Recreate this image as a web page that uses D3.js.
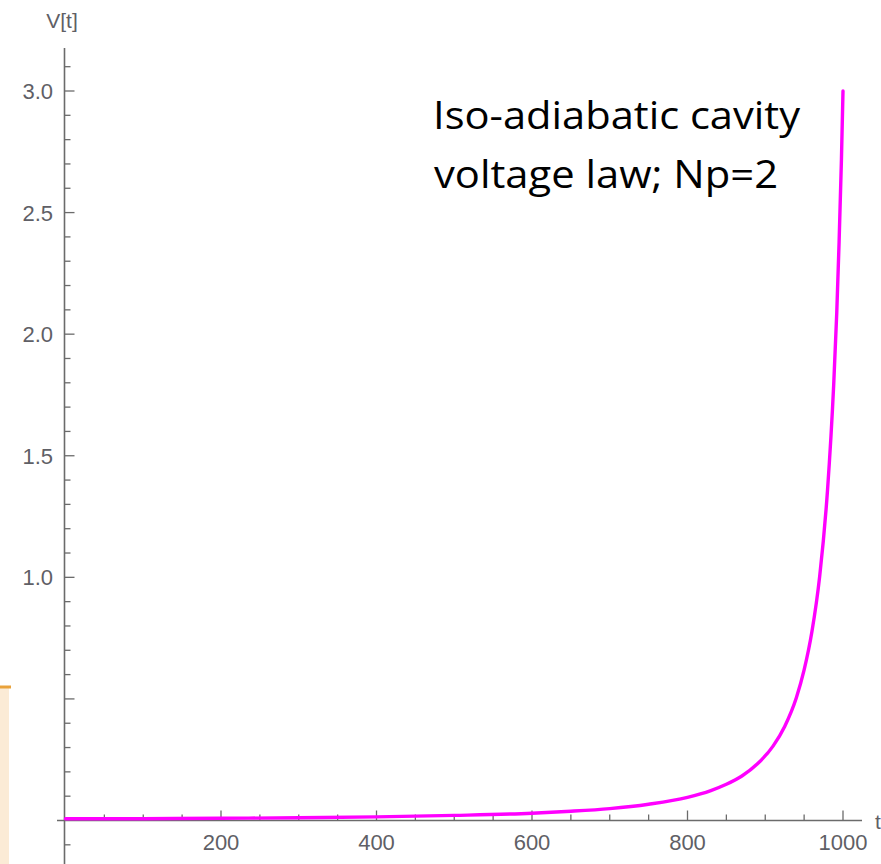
<!DOCTYPE html>
<html>
<head>
<meta charset="utf-8">
<script src="https://cdn.jsdelivr.net/npm/d3@7"></script>
<style>
  html, body { margin: 0; padding: 0; background: #ffffff; overflow: hidden; }
  svg { display: block; }
</style>
</head>
<body>
<svg id="chart" width="881" height="864"></svg>
<script>
// ---- data ----
const tValues = [0, 100, 200, 300, 400, 500, 600, 650, 700, 750, 800, 830, 850, 870, 890, 910, 925, 940, 950, 960, 970, 980, 988, 992, 995, 998, 1000];
const vValues = [0.007, 0.0075, 0.009, 0.0115, 0.015, 0.021, 0.030, 0.038, 0.049, 0.067, 0.095, 0.123, 0.149, 0.183, 0.233, 0.306, 0.387, 0.505, 0.619, 0.776, 1.004, 1.355, 1.79, 2.09, 2.38, 2.72, 3.0];
const xMajorTicks = [200, 400, 600, 800, 1000];
const xMajorLabels = ["200", "400", "600", "800", "1000"];
const xMinorTicks = [50, 100, 150, 250, 300, 350, 450, 500, 550, 650, 700, 750, 850, 900, 950];
const yMajorTicks = [0.5, 1.0, 1.5, 2.0, 2.5, 3.0];
const yMajorLabels = ["", "1.0", "1.5", "2.0", "2.5", "3.0"];
const yMinorTicks = [-0.1, 0.1, 0.2, 0.3, 0.4, 0.6, 0.7, 0.8, 0.9, 1.1, 1.2, 1.3, 1.4, 1.6, 1.7, 1.8, 1.9, 2.1, 2.2, 2.3, 2.4, 2.6, 2.7, 2.8, 2.9, 3.1];
const yAxisTitle = "V[t]";
const xAxisTitle = "t";
const noteLines = ["Iso-adiabatic cavity", "voltage law; Np=2"];

const data = tValues.map((t, i) => ({ t: t, v: vValues[i] }));

// ---- layout ----
const svg = d3.select("#chart");
const x = d3.scaleLinear().domain([0, 1000]).range([65.5, 843]);
const y = d3.scaleLinear().domain([0, 3]).range([820.5, 91]);
const axisX = 64.5;      // pixel of the vertical axis
const axisY = y(0);      // pixel of the horizontal axis
const axisColor = "#6b6b6b";
const labelColor = "#5f5f66";

// decorative fragment at left edge (part of another window in the reference)
svg.append("rect").attr("x", 0).attr("y", 688).attr("width", 9).attr("height", 176).attr("fill", "#fbebd6");
svg.append("line").attr("x1", 0).attr("x2", 11).attr("y1", 687).attr("y2", 687)
   .attr("stroke", "#e9a23b").attr("stroke-width", 3);

// ---- axes ----
const g = svg.append("g");

g.append("line").attr("x1", 57).attr("x2", 862).attr("y1", axisY).attr("y2", axisY)
  .attr("stroke", axisColor).attr("stroke-width", 1.6);
g.append("line").attr("x1", axisX).attr("x2", axisX).attr("y1", 48).attr("y2", 864)
  .attr("stroke", axisColor).attr("stroke-width", 1.6);

g.selectAll(".xmaj").data(xMajorTicks).enter().append("line")
  .attr("x1", d => x(d)).attr("x2", d => x(d)).attr("y1", axisY).attr("y2", axisY - 10)
  .attr("stroke", axisColor).attr("stroke-width", 1.3);
g.selectAll(".xmin").data(xMinorTicks).enter().append("line")
  .attr("x1", d => x(d)).attr("x2", d => x(d)).attr("y1", axisY).attr("y2", axisY - 6)
  .attr("stroke", axisColor).attr("stroke-width", 1.3);
g.selectAll(".xlab").data(xMajorTicks).enter().append("text")
  .attr("x", d => x(d)).attr("y", 850)
  .attr("text-anchor", "middle")
  .attr("font-family", "'Liberation Sans', Arial, sans-serif").attr("font-size", 22)
  .attr("fill", labelColor)
  .text((d, i) => xMajorLabels[i]);

g.selectAll(".ymaj").data(yMajorTicks).enter().append("line")
  .attr("x1", axisX).attr("x2", axisX + 10).attr("y1", d => y(d)).attr("y2", d => y(d))
  .attr("stroke", axisColor).attr("stroke-width", 1.3);
g.selectAll(".ymin").data(yMinorTicks).enter().append("line")
  .attr("x1", axisX).attr("x2", axisX + 6).attr("y1", d => y(d)).attr("y2", d => y(d))
  .attr("stroke", axisColor).attr("stroke-width", 1.3);
g.selectAll(".ylab").data(yMajorTicks).enter().append("text")
  .attr("x", 53).attr("y", d => y(d) + 8)
  .attr("text-anchor", "end")
  .attr("font-family", "'Liberation Sans', Arial, sans-serif").attr("font-size", 22)
  .attr("fill", labelColor)
  .text((d, i) => yMajorLabels[i]);

g.append("text").attr("x", 62).attr("y", 28).attr("text-anchor", "middle")
  .attr("font-family", "'Liberation Sans', Arial, sans-serif").attr("font-size", 21)
  .attr("fill", labelColor).text(yAxisTitle);
g.append("text").attr("x", 875).attr("y", 829)
  .attr("font-family", "'Liberation Sans', Arial, sans-serif").attr("font-size", 21)
  .attr("fill", labelColor).text(xAxisTitle);

// ---- curve ----
const line = d3.line().x(d => x(d.t)).y(d => y(d.v)).curve(d3.curveMonotoneX);
svg.append("path").datum(data).attr("d", line)
  .attr("fill", "none").attr("stroke", "#ff00ff").attr("stroke-width", 3.4)
  .attr("stroke-linejoin", "round").attr("stroke-linecap", "round");

// ---- annotation ----
const note = svg.append("text")
  .attr("font-family", "'Open Sans', Lato, sans-serif").attr("font-size", 38)
  .style("font-variant-ligatures", "none")
  .attr("fill", "#000000");
note.append("tspan").attr("x", 433).attr("y", 129)
  .attr("textLength", 367).attr("lengthAdjust", "spacingAndGlyphs").text(noteLines[0]);
note.append("tspan").attr("x", 434).attr("y", 188)
  .attr("textLength", 344).attr("lengthAdjust", "spacingAndGlyphs").text(noteLines[1]);
</script>
</body>
</html>
